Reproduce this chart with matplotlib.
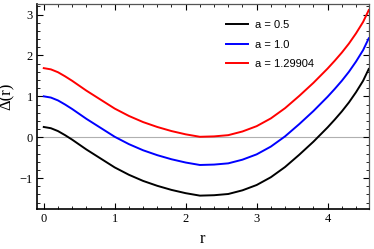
import numpy as np
import matplotlib
matplotlib.use("Agg")
import matplotlib.pyplot as plt
from matplotlib.ticker import MultipleLocator

# values
r_vals = [0, 0.1, 0.2, 0.3, 0.4, 0.6, 0.8, 1.0, 1.2, 1.4, 1.6, 1.8, 2.0, 2.2,
          2.4, 2.6, 2.8, 3.0, 3.2, 3.4, 3.6, 3.8, 4.0, 4.1, 4.2, 4.3, 4.4,
          4.5, 4.58]
delta_a05 = [0.25, 0.22, 0.15, 0.05, -0.06, -0.30, -0.52, -0.74, -0.92, -1.07,
             -1.19, -1.29, -1.37, -1.43, -1.42, -1.39, -1.30, -1.17, -0.98,
             -0.73, -0.43, -0.11, 0.24, 0.43, 0.63, 0.85, 1.10, 1.38, 1.67]
delta_a10 = [1.00, 0.97, 0.90, 0.80, 0.69, 0.45, 0.23, 0.01, -0.17, -0.32,
             -0.44, -0.54, -0.62, -0.68, -0.67, -0.64, -0.55, -0.42, -0.23,
             0.02, 0.32, 0.64, 0.99, 1.18, 1.38, 1.60, 1.85, 2.13, 2.42]
delta_a13 = [1.69, 1.66, 1.59, 1.49, 1.38, 1.14, 0.92, 0.70, 0.52, 0.37,
             0.25, 0.15, 0.07, 0.01, 0.02, 0.05, 0.14, 0.27, 0.46, 0.71,
             1.01, 1.33, 1.68, 1.87, 2.07, 2.29, 2.54, 2.82, 3.11]
labels = ["a = 0.5", "a = 1.0", "a = 1.29904"]
colors = ["black", "blue", "red"]

fig = plt.figure(figsize=(3.74, 2.49), dpi=100)
ax = fig.add_axes([0.099, 0.161, 0.887, 0.823])

# zero line
ax.axhline(0, color="#b0b0b0", lw=0.8, zorder=1)

for ys, lab, c in zip([delta_a05, delta_a10, delta_a13], labels, colors):
    ax.plot(r_vals, ys, color=c, lw=1.4, label=lab, zorder=3)

ax.set_xlim(-0.095, 4.58)
ax.set_ylim(-1.755, 3.26)

ax.xaxis.set_major_locator(MultipleLocator(1))
ax.xaxis.set_minor_locator(MultipleLocator(0.2))
ax.yaxis.set_major_locator(MultipleLocator(1))
ax.yaxis.set_minor_locator(MultipleLocator(0.2))
ax.tick_params(which="both", direction="in", top=True, right=True,
               labelsize=9, pad=3)
ax.tick_params(which="major", length=4, width=0.8)
ax.tick_params(which="minor", length=2, width=0.6)
for lab in ax.get_xticklabels() + ax.get_yticklabels():
    lab.set_family("Liberation Serif")

for s in ["left", "bottom"]:
    ax.spines[s].set_linewidth(1.2)
for s in ["top", "right"]:
    ax.spines[s].set_linewidth(0.9)
    ax.spines[s].set_color("#555555")

ax.set_xlabel("r", family="Liberation Serif", fontsize=12)
ax.set_ylabel("Δ(r)", family="Liberation Serif", fontsize=12)
ax.xaxis.set_label_coords(0.5, -0.11)
ax.yaxis.set_label_coords(-0.068, 0.55)

leg = ax.legend(loc="upper left", bbox_to_anchor=(0.54, 0.97), frameon=False,
                prop={"family": "Liberation Sans", "size": 8},
                handlelength=2.0, handletextpad=0.6, labelspacing=0.85)

fig.savefig("out.png", dpi=100)
